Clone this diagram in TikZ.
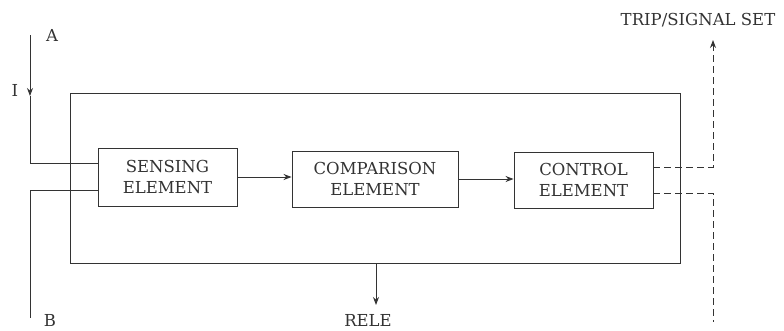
\documentclass[tikz,border=0pt]{standalone}
\usepackage{fontspec}
\setmainfont{DejaVu Serif}
\usetikzlibrary{arrows.meta}
\begin{document}
\begin{tikzpicture}[x=1pt,y=-1pt,
  ln/.style={draw=black!80,line width=0.9pt},
  blk/.style={ln,rectangle,inner sep=0pt,align=center,font=\fontsize{16.5}{21}\selectfont,text=black!80},
  lbl/.style={font=\fontsize{16.5}{18}\selectfont,text=black!80,inner sep=0pt},
  tip/.style={-{Stealth[length=8pt,width=6pt]}},
  dsh/.style={ln,dash pattern=on 7pt off 4pt}]
\useasboundingbox (0,0) rectangle (784,330);
\node[blk,minimum width=610pt,minimum height=170pt] (outer) at (375,178) {};
\node[blk,minimum width=139pt,minimum height=58pt] (sens) at (167.5,177) {SENSING\\ELEMENT};
\node[blk,minimum width=166pt,minimum height=56pt] (comp) at (375,179) {COMPARISON\\ELEMENT};
\node[blk,minimum width=139pt,minimum height=56pt] (ctrl) at (583.5,180) {CONTROL\\ELEMENT};
\node[lbl] (la) at (52,35) {A};
\node[lbl] (li) at (15,90) {I};
\node[lbl] (lb) at (50,320) {B};
\node[lbl] (lr) at (368,320) {RELE};
\node[lbl] (lt) at (698,20) {TRIP/SIGNAL SET};
\coordinate (a) at (30,35);
\coordinate (ai) at (30,96);
\coordinate (b) at (30,318);
\coordinate (r) at (376,305);
\coordinate (t) at (713,40);
\coordinate (d) at (713,322);
\draw[ln,tip] (a) -- (ai);
\draw[ln] (ai) |- ([yshift=14pt]sens.west);
\draw[ln] ([yshift=-13pt]sens.west) -| (b);
\draw[ln,tip] (sens.east) -- (sens.east -| comp.west);
\draw[ln,tip] (comp.east) -- (comp.east -| ctrl.west);
\draw[ln,tip] (outer.south -| r) -- (r);
\draw[dsh,tip] ([yshift=13pt]ctrl.east) -| (t);
\draw[dsh] ([yshift=-13pt]ctrl.east) -| (d);
\end{tikzpicture}
\end{document}
